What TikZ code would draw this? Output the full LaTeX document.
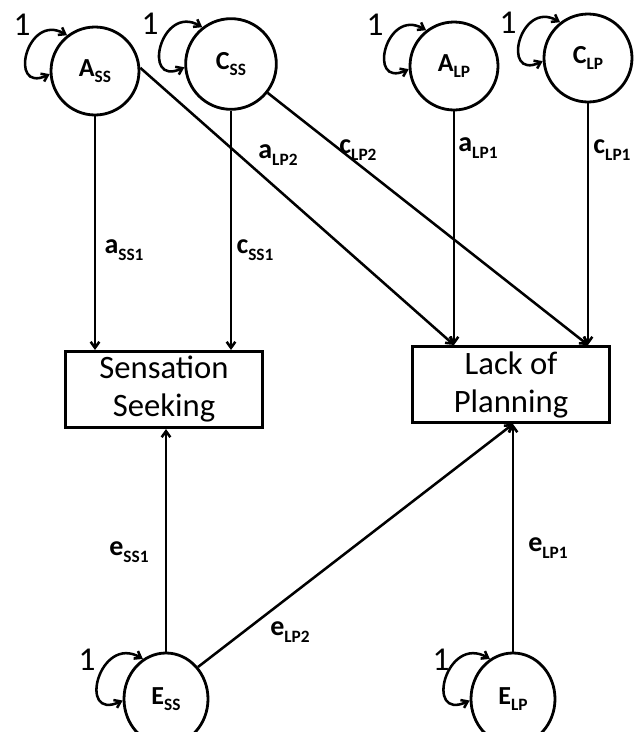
\documentclass[tikz,border=0pt]{standalone}
\usepackage{fontspec}
\setmainfont{Carlito}
\usetikzlibrary{arrows.meta, shapes.geometric}

\newcommand{\sublbl}[2]{\textbf{#1}\raisebox{-4.8pt}{\fontsize{13}{14}\selectfont\bfseries #2}}

\begin{document}
\begin{tikzpicture}[
    x=0.75pt, y=-0.75pt,
    latent/.style={draw, circle, line width=2.1pt, minimum size=66pt, inner sep=0pt, font=\fontsize{19.5}{21}\selectfont},
    errlat/.style={draw, ellipse, line width=2.1pt, minimum width=63pt, minimum height=69pt, inner sep=0pt, font=\fontsize{19.5}{21}\selectfont},
    obs/.style={draw, rectangle, line width=2.3pt, minimum width=148pt, minimum height=57pt, inner sep=0pt, align=center, font=\fontsize{24.5}{28.5}\selectfont},
    pathlbl/.style={inner sep=0pt, font=\fontsize{21}{23}\selectfont},
    one/.style={inner sep=0pt, font=\fontsize{25}{26}\selectfont},
    conn/.style={line width=1.9pt},
    >={Straight Barb[length=4.5pt, width=6.5pt]} % Arrow style
]
\useasboundingbox (0,0) rectangle (637,732);

% Nodes
\node[latent] (ASS) at (95,71) {\sublbl{A}{SS}};
\node[latent, minimum size=68pt] (CSS) at (231,64) {\sublbl{C}{SS}};
\node[latent] (ALP) at (454,66) {\sublbl{A}{LP}};
\node[latent] (CLP) at (588,58) {\sublbl{C}{LP}};
\node[obs] (SS) at (164,389.5) {Sensation\\Seeking};
\node[obs] (LP) at (511,384.5) {Lack of\\Planning};
\node[errlat] (ESS) at (166,699) {\sublbl{E}{SS}};
\node[errlat] (ELP) at (513,699) {\sublbl{E}{LP}};

% Arrow ends on the boxes
\coordinate (ssA) at (ASS |- SS.north);
\coordinate (ssC) at (CSS |- SS.north);
\coordinate (lpA) at (ALP |- LP.north);
\coordinate (lpC) at (CLP |- LP.north);
\coordinate (ssE) at (ESS |- SS.south);
\coordinate (lpE) at (ELP |- LP.south);

% Arrows
\draw[conn, ->] (ASS) -- (ssA);
\draw[conn, ->] (CSS) -- (ssC);
\draw[conn, ->] (ASS.4) -- (lpA);
\draw[conn, ->] (CSS) -- (lpC);
\draw[conn, ->] (ALP) -- (lpA);
\draw[conn, ->] (CLP) -- (lpC);
\draw[conn, ->] (ESS) -- (ssE);
\draw[conn, ->] (ESS.45) -- (lpE);
\draw[conn, ->] (ELP) -- (lpE);

% Variances
\draw[conn, <->] (ASS.128) to[out=150, in=205, looseness=2.8] (ASS.184);
\draw[conn, <->] (CSS.128) to[out=150, in=205, looseness=2.8] (CSS.184);
\draw[conn, <->] (ALP.128) to[out=150, in=205, looseness=2.8] (ALP.184);
\draw[conn, <->] (CLP.128) to[out=150, in=205, looseness=2.8] (CLP.184);
\draw[conn, <->] (ESS.120) to[out=150, in=205, looseness=2.8] (ESS.182);
\draw[conn, <->] (ELP.120) to[out=150, in=205, looseness=2.8] (ELP.182);

\node[one] (vASS) at (22,25) {1};
\node[one] (vCSS) at (150,24) {1};
\node[one] (vALP) at (375,25) {1};
\node[one] (vCLP) at (508,23) {1};
\node[one] (vESS) at (87,660) {1};
\node[one] (vELP) at (441,660) {1};

% Path labels
\node[pathlbl] (aSS1) at (124,250) {\sublbl{a}{SS1}};
\node[pathlbl] (cSS1) at (255,250) {\sublbl{c}{SS1}};
\node[pathlbl] (aLP2) at (278,155) {\sublbl{a}{LP2}};
\node[pathlbl] (cLP2) at (358,150) {\sublbl{c}{LP2}};
\node[pathlbl] (aLP1) at (478,148) {\sublbl{a}{LP1}};
\node[pathlbl] (cLP1) at (612,150) {\sublbl{c}{LP1}};
\node[pathlbl] (eSS1) at (129,552) {\sublbl{e}{SS1}};
\node[pathlbl] (eLP2) at (290,632) {\sublbl{e}{LP2}};
\node[pathlbl] (eLP1) at (548,548) {\sublbl{e}{LP1}};

\end{tikzpicture}
\end{document}
